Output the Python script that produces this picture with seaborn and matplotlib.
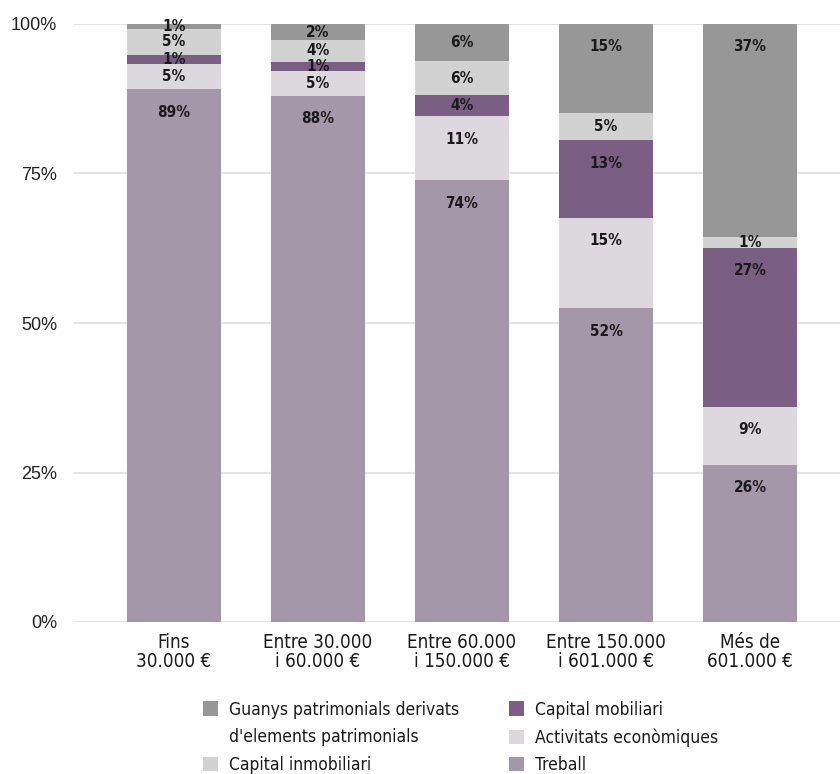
import matplotlib
matplotlib.use("Agg")
import matplotlib.pyplot as plt
from matplotlib.patches import Patch
from matplotlib import font_manager as fm
import seaborn as sns
import numpy as np

categories = ["Fins\n30.000 €", "Entre 30.000\ni 60.000 €", "Entre 60.000\ni 150.000 €",
              "Entre 150.000\ni 601.000 €", "Més de\n601.000 €"]
# shares (%) per component, bottom to top
treball = [89.1, 88.0, 73.9, 52.5, 26.3]
activitats = [4.2, 4.2, 10.7, 15.1, 9.7]
mobiliari = [1.5, 1.5, 3.5, 13.0, 26.6]
inmobiliari = [4.4, 3.6, 5.7, 4.5, 1.8]
guanys = [0.8, 2.7, 6.2, 14.9, 35.6]
# printed labels
lab_treball = ["89%", "88%", "74%", "52%", "26%"]
lab_activitats = ["5%", "5%", "11%", "15%", "9%"]
lab_mobiliari = ["1%", "1%", "4%", "13%", "27%"]
lab_inmobiliari = ["5%", "4%", "6%", "5%", "1%"]
lab_guanys = ["1%", "2%", "6%", "15%", "37%"]

series_names = ["Treball", "Activitats econòmiques", "Capital mobiliari",
                "Capital inmobiliari", "Guanys patrimonials derivats\nd'elements patrimonials"]
colors = ["#a597aa", "#dcd8de", "#7b5e83", "#d2d2d2", "#979797"]
values = [treball, activitats, mobiliari, inmobiliari, guanys]
labels = [lab_treball, lab_activitats, lab_mobiliari, lab_inmobiliari, lab_guanys]

sns.set_theme(style="white")
plt.rcParams['font.family'] = ['DejaVu Sans']

# condensed font if available
cond_file = None
cond_bold = None
for f in fm.findSystemFonts():
    n = f.lower()
    if n.endswith("dejavusanscondensed.ttf"):
        cond_file = f
    if n.endswith("dejavusanscondensed-bold.ttf"):
        cond_bold = f
if cond_file:
    cond_prop = lambda size: fm.FontProperties(fname=cond_file, size=size)
else:
    cond_prop = lambda size: fm.FontProperties(family="DejaVu Sans", size=size)
if cond_bold:
    bold_prop = lambda size: fm.FontProperties(fname=cond_bold, size=size)
else:
    bold_prop = lambda size: fm.FontProperties(family="DejaVu Sans", weight="bold", size=size)

fig = plt.figure(figsize=(8.4, 7.74), dpi=100)
ax = fig.add_axes([74/840, (774-622)/774, 1 - 74/840, (622-24)/774])

cum = np.cumsum(np.array(values), axis=0)
# draw from top layer down so lower layers cover
for i in range(len(values) - 1, -1, -1):
    sns.barplot(x=categories, y=cum[i], color=colors[i], saturation=1, width=0.65,
                order=categories, ax=ax, linewidth=0, zorder=2)

# data labels
px_per_pct = (622 - 24) / 100.0
off = 23 / px_per_pct
for i in range(len(values)):
    for j in range(len(categories)):
        top = cum[i][j]
        h = values[i][j]
        y = top - min(off, h / 2)
        ax.text(j, y, labels[i][j], ha="center", va="center",
                fontproperties=bold_prop(11), color="#1a1a1a", zorder=5)

ax.set_ylim(0, 100)
ax.set_xlim(-100/144, 4 + 90/144)
ax.set_yticks([0, 25, 50, 75, 100])
ax.set_yticklabels(["0%", "25%", "50%", "75%", "100%"], fontsize=13,
                   color="#222222", family=["Liberation Sans"])
ax.yaxis.grid(True, color="#e2e2e8", linewidth=1.5, zorder=0)
ax.set_axisbelow(True)
ax.xaxis.grid(False)
for s in ax.spines.values():
    s.set_visible(False)
ax.tick_params(axis="y", length=0, pad=12)
ax.tick_params(axis="x", length=0, pad=8)
for t in ax.get_xticklabels():
    t.set_fontproperties(cond_prop(13.5))
    t.set_color("#1a1a1a")
    t.set_linespacing(1.0)
ax.set_xlabel("")
ax.set_ylabel("")

# legends
def patch(c):
    return Patch(facecolor=c, edgecolor="none")

leg_kw = dict(frameon=False, borderpad=0, handlelength=0.9, handleheight=0.9,
              handletextpad=0.6, labelspacing=0.55, loc="upper left",
              prop=cond_prop(12.5), labelcolor="#1a1a1a")
h1 = [patch(colors[4]), patch("none"), patch(colors[3])]
l1 = ["Guanys patrimonials derivats", "d'elements patrimonials", "Capital inmobiliari"]
leg1 = fig.legend(h1, l1, bbox_to_anchor=(194/840, 1 - 692/774), **leg_kw)
h2 = [patch(colors[2]), patch(colors[1]), patch(colors[0])]
l2 = ["Capital mobiliari", "Activitats econòmiques", "Treball"]
leg2 = fig.legend(h2, l2, bbox_to_anchor=(500/840, 1 - 692/774), **leg_kw)

fig.savefig("out.png", dpi=100)
